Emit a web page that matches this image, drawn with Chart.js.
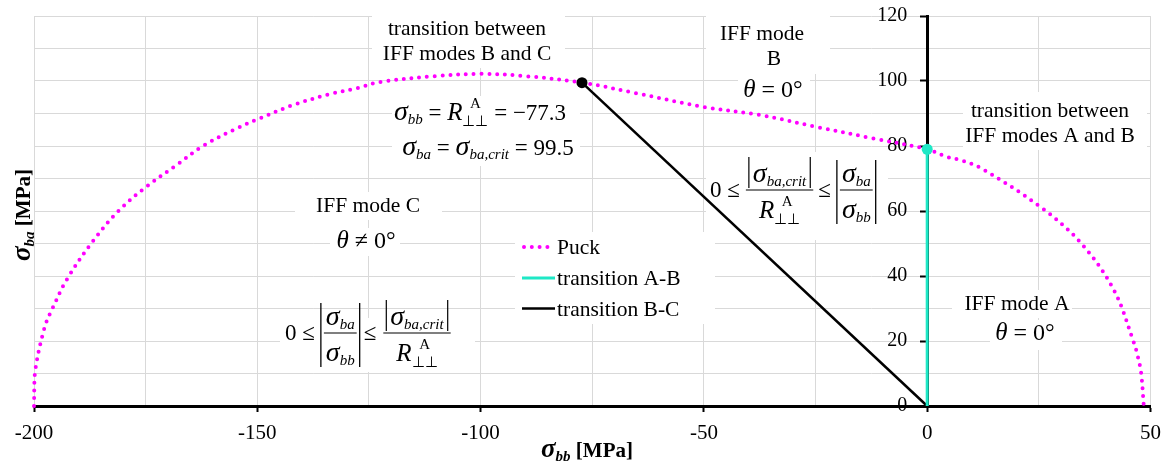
<!DOCTYPE html>
<html>
<head>
<meta charset="utf-8">
<script src="https://cdn.jsdelivr.net/npm/chart.js@4.4.1/dist/chart.umd.min.js"></script>
<style>
  html, body { margin: 0; padding: 0; background: #fff; }
</style>
</head>
<body>
<canvas id="chart" width="1170" height="468"></canvas>
<script>
// Puck failure curve
var puckX = [-200, -199.8, -197.6, -195.8, -192.7, -187.1, -181.3, -175.2, -168, -162.2, -154.5, -149.8, -142, -133.7, -127.6, -122.5, -110, -100, -90, -77.3, -65, -50, -37.3, -24.6, -12, 0, 4.5, 7.4, 12, 25.4, 34.4, 41.8, 46.3, 47.2, 47.9, 48.5];
var puckY = [0, 10.2, 24.3, 30.2, 38.8, 50.2, 59.7, 67.1, 74.2, 80, 85.5, 88.3, 92.6, 96, 97.8, 99.7, 101.5, 102.2, 101.5, 99.5, 96.2, 92, 89.5, 85.8, 82.3, 79, 76.6, 75.7, 73.2, 61.2, 50.2, 35.7, 19.4, 15, 10.2, 0];

// transition lines
var abX = [0, 0];
var abY = [0, 79];
var bcX = [0, -77.3];
var bcY = [0, 99.5];

var xTickStep = 25, xLabelStep = 50;
var yTickStep = 10, yLabelStep = 20;

function toPts(xs, ys) {
  var out = [];
  for (var i = 0; i < xs.length; i++) out.push({x: xs[i], y: ys[i]});
  return out;
}

var SERIF = '"Liberation Serif", "Times New Roman", serif';
function fnt(s, it, b) {
  return (it ? 'italic ' : '') + (b ? 'bold ' : '') + s + 'px ' + SERIF;
}

// little rich-text helpers for the formulas
function runW(ctx, r) {
  if (r.sup !== undefined) {
    ctx.font = fnt(r.s);
    return Math.max(ctx.measureText(r.sup).width, ctx.measureText(r.sub).width);
  }
  ctx.font = fnt(r.s, r.it, r.b);
  return ctx.measureText(r.t).width;
}
function widthOf(ctx, runs) {
  var w = 0;
  runs.forEach(function(r) { w += runW(ctx, r); });
  return w;
}
function drawRuns(ctx, runs, x, y, align) {
  var w = widthOf(ctx, runs);
  if (align === 'center') x -= w / 2;
  ctx.textAlign = 'left';
  ctx.textBaseline = 'alphabetic';
  runs.forEach(function(r) {
    var rw = runW(ctx, r);
    if (r.sup !== undefined) {
      ctx.font = fnt(r.s);
      ctx.fillText(r.sup, x + (rw - ctx.measureText(r.sup).width) / 2, y + r.up);
      ctx.fillText(r.sub, x, y + r.dn);
    } else {
      ctx.font = fnt(r.s, r.it, r.b);
      ctx.fillText(r.t, x, y + (r.dy || 0));
    }
    x += rw;
  });
  return w;
}
function sig(sub) {
  return [{t: 'σ', s: 28, it: true}, {t: sub, s: 15, it: true, dy: 4}];
}
function rPerp() {
  return [{t: 'R', s: 25, it: true}, {sup: 'A', sub: '⊥⊥', s: 15, up: -12, dn: 6}];
}
function txt(t, s) { return [{t: t, s: s || 23}]; }

function vbar(ctx, x, y1, y2) {
  ctx.beginPath(); ctx.moveTo(x, y1); ctx.lineTo(x, y2); ctx.stroke();
}
function drawFrac(ctx, x, bar, num, den, numAbs) {
  var nw = widthOf(ctx, num) + (numAbs ? 10 : 0);
  var dw = widthOf(ctx, den);
  var w = Math.max(nw, dw) + 4;
  ctx.lineWidth = 1.2;
  ctx.beginPath(); ctx.moveTo(x, bar); ctx.lineTo(x + w, bar); ctx.stroke();
  drawRuns(ctx, num, x + w / 2, bar - 8, 'center');
  if (numAbs) {
    vbar(ctx, x + (w - nw) / 2 + 1, bar - 33, bar - 2);
    vbar(ctx, x + (w + nw) / 2 - 1, bar - 33, bar - 2);
  }
  drawRuns(ctx, den, x + w / 2, bar + 28, 'center');
  return w;
}
function drawAbsFrac(ctx, x, bar, num, den) {
  ctx.lineWidth = 1.3;
  vbar(ctx, x, bar - 30, bar + 34);
  var w = drawFrac(ctx, x + 3, bar, num, den, false);
  ctx.lineWidth = 1.3;
  vbar(ctx, x + w + 6, bar - 30, bar + 34);
  return w + 6;
}

var boxes = [
  [372, 4, 193, 64], [706, 8, 124, 66], [738, 75, 72, 32], [392, 96, 188, 70],
  [963, 92, 184, 58], [952, 290, 120, 28], [990, 320, 72, 30], [295, 192, 147, 28],
  [330, 228, 70, 28], [280, 318, 195, 54], [706, 152, 182, 88], [515, 232, 200, 92]
];

var notes = {
  id: 'notes',
  beforeDatasetsDraw: function(chart) {
    var ctx = chart.ctx;
    ctx.save();
    ctx.fillStyle = '#fff';
    boxes.forEach(function(b) { ctx.fillRect(b[0], b[1], b[2], b[3]); });
    ctx.restore();
  },
  afterDraw: function(chart) {
    var ctx = chart.ctx;
    ctx.save();
    ctx.fillStyle = '#000';
    ctx.strokeStyle = '#000';

    // plain labels
    drawRuns(ctx, txt('transition between', 21.5), 467, 35, 'center');
    drawRuns(ctx, txt('IFF modes B and C', 21.5), 467, 60, 'center');
    drawRuns(ctx, txt('IFF mode', 21.5), 762, 40, 'center');
    drawRuns(ctx, txt('B', 21.5), 774, 65, 'center');
    drawRuns(ctx, txt('transition between', 21.5), 1050, 117, 'center');
    drawRuns(ctx, txt('IFF modes A and B', 21.5), 1050, 142, 'center');
    drawRuns(ctx, txt('IFF mode A', 21.5), 1017, 310, 'center');
    drawRuns(ctx, txt('IFF mode C', 21.5), 368, 212, 'center');

    var th = {t: 'θ', s: 25, it: true};
    drawRuns(ctx, [th, {t: ' = 0°', s: 24}], 773, 97, 'center');
    drawRuns(ctx, [th, {t: ' = 0°', s: 24}], 1025, 340, 'center');
    drawRuns(ctx, [th, {t: ' ≠ 0°', s: 24}], 366, 248, 'center');

    // transition point values
    drawRuns(ctx, sig('bb').concat(txt(' = ')).concat(rPerp()).concat(txt(' = −77.3')), 480, 120, 'center');
    drawRuns(ctx, sig('ba').concat(txt(' = ')).concat(sig('ba,crit')).concat(txt(' = 99.5')), 488, 155, 'center');

    // mode C condition
    var x = 285, bar = 333;
    x += drawRuns(ctx, txt('0 ≤'), x, bar + 7) + 6;
    x += drawAbsFrac(ctx, x, bar, sig('ba'), sig('bb')) + 4;
    x += drawRuns(ctx, txt('≤'), x, bar + 7) + 7;
    drawFrac(ctx, x, bar, sig('ba,crit'), rPerp(), true);

    // mode B condition
    x = 710; bar = 190;
    x += drawRuns(ctx, txt('0 ≤'), x, bar + 7) + 6;
    x += drawFrac(ctx, x, bar, sig('ba,crit'), rPerp(), true) + 5;
    x += drawRuns(ctx, txt('≤'), x, bar + 7) + 6;
    drawAbsFrac(ctx, x, bar, sig('ba'), sig('bb'));

    // axis titles
    var bt = [{t: 'σ', s: 27, it: true, b: true}, {t: 'bb', s: 15, it: true, b: true, dy: 4}, {t: ' [MPa]', s: 21, b: true}];
    drawRuns(ctx, bt, 587, 457, 'center');
    ctx.translate(30, 215);
    ctx.rotate(-Math.PI / 2);
    var at = [{t: 'σ', s: 27, it: true, b: true}, {t: 'ba', s: 15, it: true, b: true, dy: 4}, {t: ' [MPa]', s: 21, b: true}];
    drawRuns(ctx, at, 0, 0, 'center');
    ctx.restore();

    // legend
    var ly = [247, 278, 308.5];
    ctx.save();
    chart.data.datasets.forEach(function(d, i) {
      ctx.save();
      ctx.strokeStyle = d.borderColor;
      ctx.lineWidth = d.borderWidth;
      ctx.setLineDash(d.borderDash || []);
      ctx.lineCap = d.borderCapStyle || 'butt';
      ctx.beginPath();
      ctx.moveTo(i === 0 ? 524 : 522, ly[i]);
      ctx.lineTo(i === 0 ? 549 : 555, ly[i]);
      ctx.stroke();
      ctx.restore();
      ctx.fillStyle = '#000';
      drawRuns(ctx, txt(d.label, 21.5), 557, ly[i] + 7);
    });
    ctx.restore();
  }
};

new Chart(document.getElementById('chart'), {
  type: 'scatter',
  data: {
    datasets: [
      {
        label: 'Puck',
        data: toPts(puckX, puckY),
        showLine: true,
        borderColor: '#ff00ff',
        borderWidth: 4,
        borderDash: [0, 7.8],
        borderCapStyle: 'round',
        pointRadius: 0,
        tension: 0.35,
        clip: 6,
        order: 3
      },
      {
        label: 'transition A-B',
        data: toPts(abX, abY),
        showLine: true,
        borderColor: '#1ee8c6',
        backgroundColor: '#1ee8c6',
        borderWidth: 3,
        pointRadius: [0, 5.5],
        pointBorderWidth: 0,
        clip: 6,
        order: 1
      },
      {
        label: 'transition B-C',
        data: toPts(bcX, bcY),
        showLine: true,
        borderColor: '#000',
        backgroundColor: '#000',
        borderWidth: 2.5,
        pointRadius: [0, 5.5],
        pointBorderWidth: 0,
        clip: 6,
        order: 2
      }
    ]
  },
  options: {
    responsive: false,
    animation: false,
    events: [],
    layout: { padding: { left: 34, right: 19, top: 16, bottom: 0 } },
    plugins: { legend: { display: false }, tooltip: { enabled: false } },
    scales: {
      x: {
        type: 'linear', min: -200, max: 50, position: 'bottom',
        afterFit: function(s) { s.height = 62; },
        ticks: {
          stepSize: xTickStep, autoSkip: false, maxRotation: 0, padding: 9, color: '#000',
          font: { family: SERIF, size: 21 },
          callback: function(v) { return v % xLabelStep === 0 ? String(v) : ''; }
        },
        grid: {
          color: '#d9d9d9', lineWidth: 1, tickLength: 6, tickWidth: 2,
          tickColor: function(c) { return c.tick && c.tick.value % xLabelStep === 0 ? '#000' : 'rgba(0,0,0,0)'; }
        },
        border: { color: '#000', width: 3 }
      },
      y: {
        type: 'linear', min: 0, max: 120, position: { x: 0 },
        ticks: {
          stepSize: yTickStep, autoSkip: false, color: '#000',
          font: { family: SERIF, size: 20 },
          // the axis sits inside the plot, so push the labels left of the line with an em space
          callback: function(v) { return v % yLabelStep === 0 ? String(v) + '\u2003' : ''; }
        },
        grid: {
          color: '#d9d9d9', lineWidth: 1, tickLength: 6, tickWidth: 2,
          tickColor: function(c) { return c.tick && c.tick.value % yLabelStep === 0 ? '#000' : 'rgba(0,0,0,0)'; }
        },
        border: { color: '#000', width: 3 }
      }
    }
  },
  plugins: [notes]
});
</script>
</body>
</html>
